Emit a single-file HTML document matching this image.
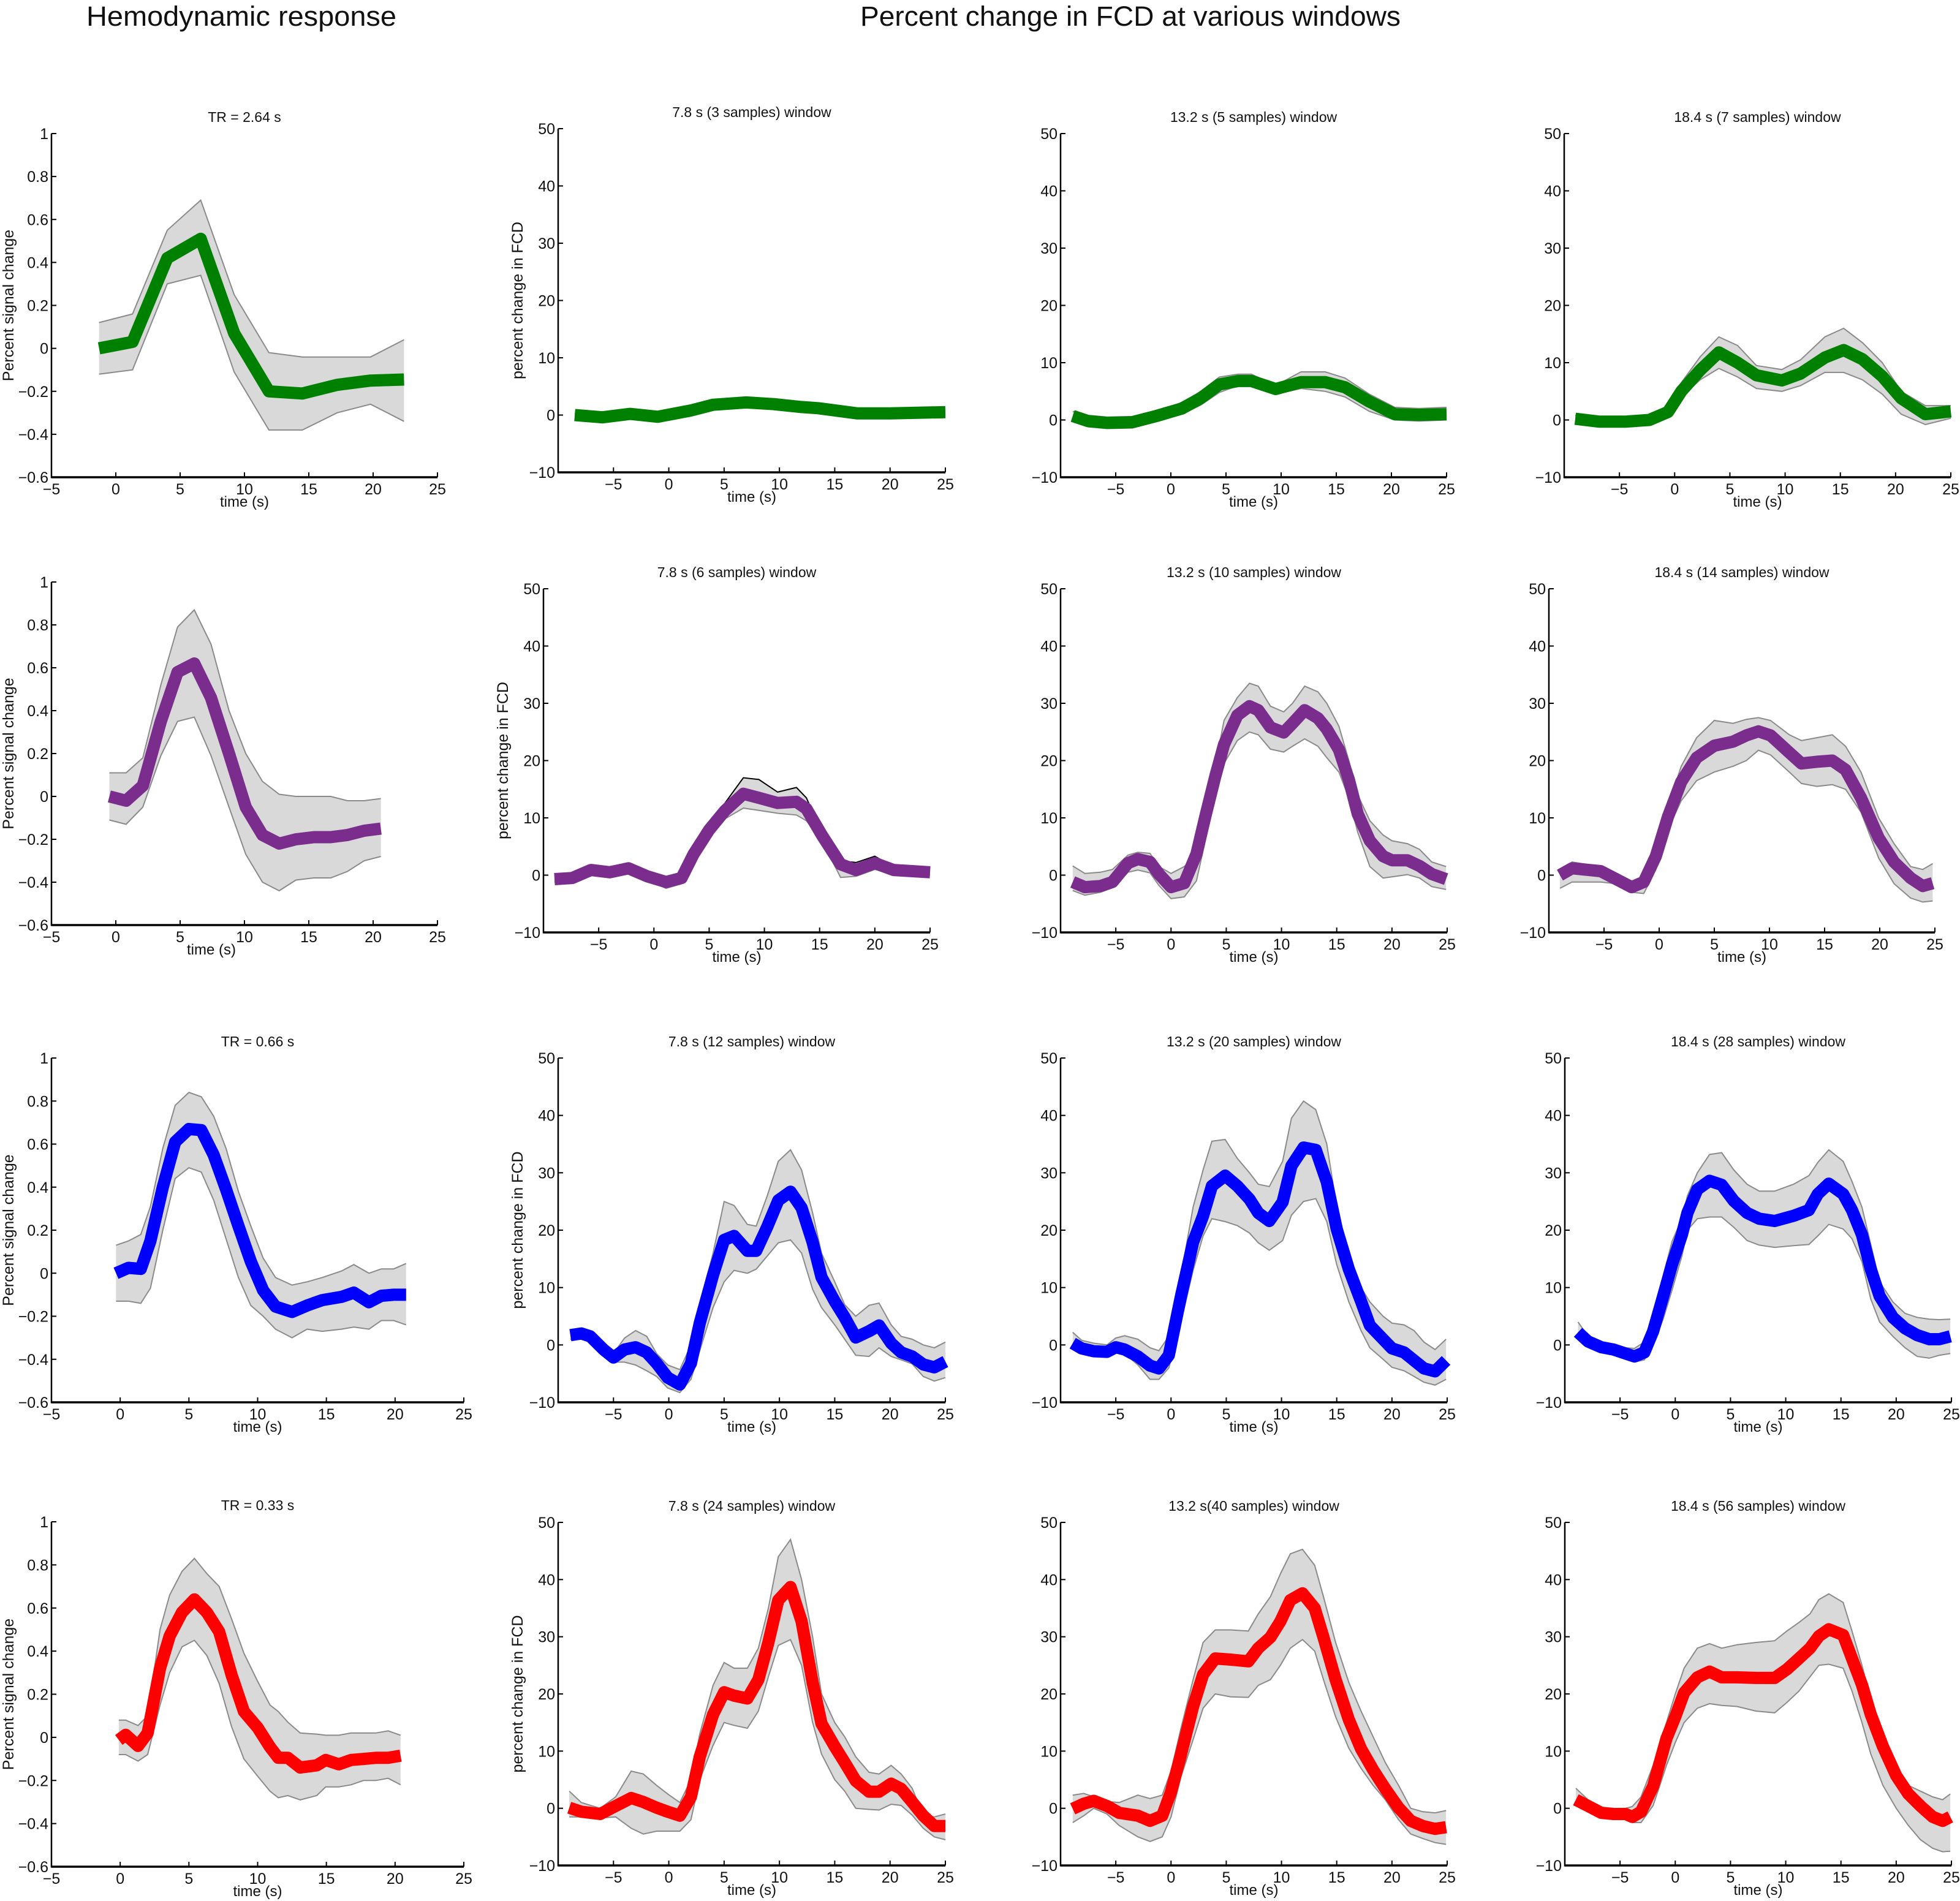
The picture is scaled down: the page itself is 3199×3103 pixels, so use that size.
<!DOCTYPE html>
<html><head><meta charset="utf-8"><style>
html,body{margin:0;padding:0;background:#fff}
svg{display:block}
text{font-family:"Liberation Sans",Arial,sans-serif;fill:#111}
</style></head><body>
<svg id="fig" xmlns="http://www.w3.org/2000/svg" width="3199" height="3103" viewBox="0 0 3199 3103">
<text x="394" y="42" font-size="45" text-anchor="middle" textLength="506" lengthAdjust="spacingAndGlyphs">Hemodynamic response</text>
<text x="1845" y="42" font-size="45" text-anchor="middle" textLength="882" lengthAdjust="spacingAndGlyphs">Percent change in FCD at various windows</text>
</svg>
<script>
// ---------- data: row 1 ----------
const p00X=[-1.3,1.3,4.0,6.6,9.2,11.9,14.5,17.2,19.8,22.4];
const p00Mean=[0,0.03,0.42,0.51,0.07,-0.2,-0.21,-0.17,-0.15,-0.145];
const p00Upper=[0.12,0.16,0.55,0.69,0.25,-0.02,-0.04,-0.04,-0.04,0.04];
const p00Lower=[-0.12,-0.1,0.3,0.34,-0.11,-0.38,-0.38,-0.3,-0.26,-0.34];

const p01X=[-8.5,-6,-3.5,-1,2,4,7,9.5,12,13.5,17,20,25];
const p01Mean=[0,-0.4,0.2,-0.3,0.8,1.8,2.2,1.9,1.4,1.2,0.3,0.3,0.5];
const p01Upper=[0.3,-0.1,0.5,0,1.1,2.1,2.5,2.2,1.7,1.5,0.6,0.6,0.8];
const p01Lower=[-0.3,-0.7,-0.1,-0.6,0.5,1.5,1.9,1.6,1.1,0.9,0,0,0.2];

const p02X=[-8.9,-7.5,-5.8,-3.5,-1.3,1,2.7,4.4,6.1,7.3,9.5,11.8,14,15.8,18,20.3,22.5,25];
const p02Mean=[0.7,-0.2,-0.5,-0.4,0.7,2,3.8,6.2,6.8,6.8,5.4,6.6,6.6,5.7,3.2,1,0.9,1];
const p02Upper=[1.5,0.8,0.5,0.6,1.7,3,5,7.5,8,8,6,8.4,8.4,7.3,4.5,2.2,2,2.2];
const p02Lower=[0,-1.2,-1.5,-1.4,-0.3,1,2.6,4.8,6,6,4.5,5.5,5,4,1.5,0,-0.2,0];

const p03X=[-9,-6.8,-4.5,-2.3,-0.6,0.6,2.3,4,5.7,7.4,9.7,11.4,13.6,15.3,17,18.8,20.5,22.7,25];
const p03Mean=[0.2,-0.3,-0.3,0,1.4,5,8.7,11.8,10,7.8,6.9,8.1,10.9,12.2,10.6,7.6,3.8,1,1.5];
const p03Upper=[0.8,0.3,0.3,0.6,2.2,6.5,11,14.5,13,9.5,8.8,10.5,14.5,16,13.5,10,5,2.5,2.5];
const p03Lower=[-0.4,-0.9,-0.9,-0.6,0.6,4,7,9,7.5,5.5,5,6,8.3,8.3,7,4.5,1,-0.8,0.3];

// ---------- data: row 2 ----------
const p10X=[-0.5,0.8,2.1,3.5,4.8,6.1,7.4,8.8,10.1,11.4,12.7,14.0,15.4,16.7,18.0,19.3,20.6];
const p10Mean=[0,-0.02,0.05,0.35,0.58,0.62,0.46,0.2,-0.05,-0.18,-0.22,-0.2,-0.19,-0.19,-0.18,-0.16,-0.15];
const p10Upper=[0.11,0.11,0.18,0.52,0.79,0.87,0.71,0.40,0.20,0.07,0.01,0,0,0,-0.02,-0.02,-0.01];
const p10Lower=[-0.11,-0.13,-0.05,0.19,0.35,0.37,0.19,-0.05,-0.27,-0.40,-0.44,-0.39,-0.38,-0.38,-0.35,-0.30,-0.28];

const p11X=[-9,-7.4,-5.7,-4,-2.3,-0.6,1.1,2.5,3.6,5,6.4,8.1,9.5,11.2,12.9,13.8,15.2,16.9,18.3,20,21.7,23.4,25];
const p11Mean=[-0.7,-0.5,0.9,0.5,1.2,-0.2,-1.2,-0.5,3.7,7.9,11.2,14.2,13.5,12.6,12.8,11.6,7,1.9,0.9,2.1,0.9,0.7,0.5];
const p11Upper=[-0.4,-0.2,1.2,0.8,1.5,0.2,-0.5,0,4.3,8.5,12.5,17,16.7,14.5,15.3,13.5,7.5,2.5,2.2,3.3,1.4,1,0.8];
const p11Lower=[-1.2,-1,0.4,0,0.7,-0.8,-2.3,-1.5,3,7.5,9.8,11.7,11.3,10.8,10.5,9.5,6,-0.4,-0.2,1,0.2,0.2,0];

const p12X=[-8.9,-7.8,-6.4,-5.3,-3.9,-3,-1.9,-1.1,0,1.2,2.3,3.1,4,4.8,6,7.1,7.9,9,10.2,11,12.1,13.3,14.1,15.2,16.1,16.9,18,19.2,20,21.4,22.5,23.6,24.9];
const p12Mean=[-1.2,-2.1,-1.9,-1.2,2.1,2.8,2.3,0.2,-2.1,-1.4,3.7,10.2,17.2,22.8,27.9,29.5,28.8,25.8,24.9,26.5,28.8,27.4,25.5,21.9,16.7,10.7,6,3.3,2.6,2.6,1.6,0.2,-0.7];
const p12Upper=[1.6,0.3,0.5,1,3.5,4,3.8,1.5,0.3,1.5,3.5,10.5,19,27,31,33.5,33,29.5,28.5,30,33,32,30,26,20,14,9.5,7,6,5.5,4.5,2.3,1.5];
const p12Lower=[-2.7,-3.5,-3,-2.2,0.5,0.9,0.4,-1.8,-4.1,-3.8,-1,6,14,19.5,23.5,25,24.5,22,21.5,22.5,23.8,22.5,20.5,18,13.5,7.5,1.5,-0.5,-0.3,0.1,-0.5,-2,-2.5];

const p13X=[-9,-7.9,-5.3,-3.9,-2.5,-1.4,-0.3,0.8,2,3.4,5,6.7,7.9,9,10.1,11.8,12.9,14.3,15.7,16.9,18.3,19.9,21.3,22.8,23.9,24.8];
const p13Mean=[0,1.2,0.7,-0.7,-2.1,-1.2,3.3,10.2,16.3,20.5,22.6,23.3,24.4,25.1,24.4,21.4,19.5,19.8,20,18.4,13.5,6.5,2.3,-0.5,-1.9,-1.4];
const p13Upper=[0.5,2.3,1.5,0,-1,-1,4.5,12,19,24,27,26.5,27.2,27.5,27,24.5,23.5,24,24.5,22.5,18,10,5.5,1.5,1,2];
const p13Lower=[-2.3,-1.2,-1.2,-1.5,-3,-3.2,1,8,13,16.5,18,19,20,21.8,21,18,16,15.5,15.8,15,11,3,-1.5,-4,-4.7,-4.5];

// ---------- data: row 3 ----------
const p20X=[-0.3,0.6,1.5,2.2,3.1,4,5,5.9,6.8,7.7,8.6,9.5,10.4,11.3,12.5,13.6,14.7,16.1,17,18.1,19,19.9,20.8];
const p20Mean=[0,0.025,0.02,0.15,0.4,0.61,0.67,0.665,0.55,0.39,0.22,0.055,-0.08,-0.155,-0.18,-0.15,-0.125,-0.11,-0.09,-0.135,-0.105,-0.1,-0.1];
const p20Upper=[0.13,0.15,0.18,0.31,0.58,0.78,0.84,0.82,0.73,0.58,0.38,0.22,0.07,-0.02,-0.055,-0.04,-0.02,0.01,0.04,0,0.02,0.02,0.045];
const p20Lower=[-0.13,-0.13,-0.14,-0.07,0.2,0.44,0.49,0.47,0.34,0.16,-0.02,-0.15,-0.2,-0.26,-0.3,-0.26,-0.27,-0.26,-0.25,-0.26,-0.22,-0.22,-0.24];

const p21X=[-8.9,-7.9,-7.1,-5.9,-5,-4,-3,-2,-1.1,-0.1,1,2,2.8,4,5,5.9,7.1,7.9,8.9,9.9,11,12,13,13.8,15,15.9,16.9,18.1,19,20.1,21,22,23,24,25];
const p21Mean=[1.7,2,1.5,-0.8,-2.2,-0.8,-0.4,-1.3,-3.2,-5.7,-6.9,-3.2,3.8,12.2,18.3,19,16.4,16.4,20.6,25.2,26.7,23.9,17.9,11.8,7.6,4.8,1.3,2.4,3.4,0.3,-1.3,-2,-3.4,-3.9,-2.9];
const p21Upper=[2.2,2.5,2,0.2,-1.5,1.2,2.5,1.5,-1.5,-3.5,-4.3,0,7,16,25,24.3,21,20.7,26,32,34,30.5,23,16,11,7,5,6.9,7.3,3.5,1.5,1,0,-0.5,0.5];
const p21Lower=[1,1,1,-1.5,-3,-3,-3.5,-4.5,-5.5,-7.5,-8.3,-6,-1,6.5,11,13,12.5,13.2,15.5,17.8,18.3,16,9.7,6.5,3.5,1,-1.8,-2,-0.5,-2,-2.6,-3.3,-5.5,-6.3,-5.7];

const p22X=[-8.9,-8.1,-7,-5.8,-5,-4.2,-3,-1.9,-1.1,-0.2,0.9,2,2.9,3.7,4.9,6,7.1,7.9,8.9,10.1,10.9,12,13.1,14.1,15,16.1,17.2,18,19.2,20,21.1,22,22.9,23.9,24.9];
const p22Mean=[0.3,-0.6,-1.1,-1.2,-0.4,-0.8,-2,-3.6,-4.1,-1.8,8.5,17.9,22.5,27.7,29.5,27.7,25.4,23,21.6,24.9,31.2,34.4,34,28.4,20.2,13.2,7.6,3.4,1,-0.6,-1.3,-2.7,-4.1,-4.6,-2.7];
const p22Upper=[2.2,0.8,0.3,0,1.2,1.6,1,-0.5,-1,1.5,12,24,30.5,35.5,35.8,32.5,30,28,27.6,32,39.5,42.5,41,35,24,16,10,7.5,5,3.8,3.5,2.5,0.5,-0.8,1];
const p22Lower=[-0.5,-1,-1.3,-1.5,-0.8,-1.5,-3.5,-6,-6,-4,4,13,19,22,21.5,20.8,19.5,17.8,16.5,18.2,22.6,25,25.5,21.5,14,7.5,2.5,-0.5,-2.5,-3.9,-4.5,-5.5,-6.5,-7,-6];

const p23X=[-8.8,-7.9,-6.7,-5.6,-4.5,-3.7,-2.8,-2,-1.1,-0.3,0.6,1.1,2,3.1,4.2,5.3,6.5,7.6,9,10.7,12.1,12.9,13.9,15.2,16,16.9,17.7,18.5,19.7,20.8,21.9,23,23.9,24.9];
const p23Mean=[2.2,0.6,-0.4,-0.8,-1.5,-2,-1.3,2.4,8.5,14,19.2,23,27.1,28.6,27.9,25.1,23,22,21.6,22.5,23.5,26.3,28.1,26.3,23.5,19.2,13.2,8.5,4.8,2.9,1.7,1,1,1.5];
const p23Upper=[4,1.5,0.5,0,-0.5,-0.6,0.5,5,12,18,22,26,30,33.2,33.5,30.5,28,26.8,26.8,28,29.5,31.8,34,32,28.5,24,17.5,11,7.5,5.5,4.8,4.5,4.4,4.5];
const p23Lower=[1.2,-0.3,-1.2,-1.6,-2.5,-3,-2.6,0,4.5,9.5,15.5,20,22,22.3,22.3,20.5,18.2,17.4,17,17.3,17.5,19,21,20.2,18.5,14.5,8,4,1.5,-0.5,-2,-2.3,-1.8,-1.5];

// ---------- data: row 4 ----------
const p30X=[-0.1,0.4,1.3,2,2.9,3.6,4.5,5.4,6.3,7.2,8.1,9,10,10.9,11.5,12.2,13.1,14.3,14.95,15.9,16.8,17.7,18.6,19.5,20.4];
const p30Mean=[-0.012,0.012,-0.04,0.02,0.32,0.47,0.58,0.64,0.58,0.49,0.29,0.12,0.045,-0.045,-0.095,-0.095,-0.14,-0.13,-0.105,-0.125,-0.105,-0.1,-0.095,-0.095,-0.085];
const p30Upper=[0.08,0.08,0.055,0.1,0.5,0.66,0.77,0.83,0.76,0.7,0.55,0.39,0.26,0.15,0.12,0.07,0.02,0.015,0.01,0.01,0.02,0.02,0.02,0.03,0.01];
const p30Lower=[-0.08,-0.08,-0.11,-0.08,0.15,0.3,0.42,0.45,0.38,0.25,0.05,-0.1,-0.18,-0.25,-0.28,-0.27,-0.29,-0.27,-0.23,-0.23,-0.22,-0.2,-0.2,-0.19,-0.22];

const p31X=[-9,-7.9,-6.2,-4.8,-3.4,-2.3,-1.1,-0.1,1,2,2.8,4,5,5.9,7.1,8.1,9,9.9,11,12,13,13.8,15,15.9,16.9,18.1,19,20.1,21,22,23,24,25];
const p31Mean=[0.1,-0.6,-1,0.4,1.8,1.1,0.1,-0.6,-1.3,2,9,16.4,20.3,19.7,19.2,22.5,29,36.4,38.7,32.7,22,14.8,10.8,8,4.8,2.9,2.9,4.3,3.4,1.1,-1.3,-3.1,-3.1];
const p31Upper=[3,1,0,2,6.5,6,4,2.5,1,5,13,21.5,25.5,24.5,24.5,28,35,44,47,40,30,20,15,12.5,9,6.3,6,7.5,6,3.5,-1.2,-1.5,-1];
const p31Lower=[-1.5,-1.5,-1.7,-1.5,-3.5,-4.5,-4,-4,-4,-2,5,11,15,14.5,14,17,23,28.5,29.5,25,15,9.5,5,3,0,-0.2,-0.3,0.7,0.5,-1.2,-3.5,-5,-5.5];

const p32X=[-8.9,-7.9,-7,-5.8,-4.7,-3,-1.9,-0.8,0,0.9,2,2.9,4,5.4,7,7.9,9,9.9,10.8,11.9,13,13.8,14.9,16.1,17.2,18.3,19.4,20.6,21.7,22.8,23.9,24.9];
const p32Mean=[-0.1,0.8,1.3,0.4,-0.8,-1.3,-2.2,-1.3,2.9,9.4,17.8,23.4,26.2,26,25.7,28,29.9,32.7,36.4,37.6,35,29.9,22.5,15.5,10.4,6.7,3.4,0.1,-2.2,-3.1,-3.6,-3.3];
const p32Upper=[2.3,2.6,2,1.2,1,2.3,1.7,2.3,6.5,14,22.5,29,31.2,31.2,31,34,37,41,44.5,45.3,42.5,37,29,22,17,12.5,8,4,0,-0.6,-0.8,-0.4];
const p32Lower=[-2.5,-1.3,0,-1,-3,-5,-5.8,-5,-1.5,5.5,12,17.5,20,19.5,19.4,21.5,22.5,25,28,29.5,27.5,22.5,16,10.5,7,4,1.5,-2,-4.5,-5.3,-6,-6.3];

const p33X=[-9,-7.9,-6.7,-5.6,-4.5,-3.9,-3.1,-2,-0.8,0,0.8,2,3.1,4.2,5.6,7.3,9,10.1,11.2,12.2,13,13.9,15.2,16,16.9,17.7,18.8,20,21.1,22.2,23.3,24.2,24.9];
const p33Mean=[1.5,0.4,-0.8,-1,-1,-1.5,-0.6,3.9,12.2,16,20.2,22.9,23.9,22.9,22.9,22.8,22.8,24.3,26.2,28,30.1,31.3,30.3,26.2,21.6,16.4,10.8,5.7,2.5,0.4,-1.5,-2.2,-1.5];
const p33Upper=[3.5,1.5,0.2,-0.1,0,0.3,2,7.5,15,20,24.5,28,28.8,28,28.6,29,29.3,31,32.5,34,36.5,37.5,36,31,25,19,13,7.5,4,3,2,1.5,2.5];
const p33Lower=[0.5,-0.3,-1.5,-1.5,-1.8,-2.5,-2.5,0.5,7.5,11.5,15,17.5,18.3,18,17.8,17,16.7,18.5,20.5,23,25,25.2,24.5,20.5,15,9.5,4,0,-3,-5.5,-7,-7.6,-7.5];

// ---------- tick labels ----------
const hrYTicks=[-0.6,-0.4,-0.2,0,0.2,0.4,0.6,0.8,1];
const hrXTicks=[-5,0,5,10,15,20,25];
const fcdYTicks=[-10,0,10,20,30,40,50];
const fcdXTicks=[-5,0,5,10,15,20,25];

// ---------- layout (not data) ----------
const GREEN="#008000",PURPLE="#7b2d8e",BLUE="#0000ff",RED="#ff0000";
const panels=[
 {id:"p00",L:84,R:714,T:218,B:779,hr:true,c:GREEN,t:"TR = 2.64 s",x:p00X,m:p00Mean,u:p00Upper,l:p00Lower},
 {id:"p01",L:911,R:1543,T:210,B:771,c:GREEN,t:"7.8 s (3 samples) window",yl:true,x:p01X,m:p01Mean,u:p01Upper,l:p01Lower},
 {id:"p02",L:1731,R:2361,T:218,B:779,c:GREEN,t:"13.2 s (5 samples) window",x:p02X,m:p02Mean,u:p02Upper,l:p02Lower},
 {id:"p03",L:2553,R:3184,T:218,B:779,c:GREEN,t:"18.4 s (7 samples) window",x:p03X,m:p03Mean,u:p03Upper,l:p03Lower},
 {id:"p10",L:84,R:714,T:950,B:1510,hr:true,c:PURPLE,t:"",xlx:345,x:p10X,m:p10Mean,u:p10Upper,l:p10Lower},
 {id:"p11",L:887,R:1518,T:961,B:1522,c:PURPLE,t:"7.8 s (6 samples) window",yl:true,us:"#000",x:p11X,m:p11Mean,u:p11Upper,l:p11Lower},
 {id:"p12",L:1731,R:2362,T:961,B:1522,c:PURPLE,t:"13.2 s (10 samples) window",x:p12X,m:p12Mean,u:p12Upper,l:p12Lower},
 {id:"p13",L:2528,R:3158,T:961,B:1522,c:PURPLE,t:"18.4 s (14 samples) window",x:p13X,m:p13Mean,u:p13Upper,l:p13Lower},
 {id:"p20",L:84,R:757,T:1727,B:2289,hr:true,c:BLUE,t:"TR = 0.66 s",x:p20X,m:p20Mean,u:p20Upper,l:p20Lower},
 {id:"p21",L:911,R:1543,T:1727,B:2289,c:BLUE,t:"7.8 s (12 samples) window",yl:true,x:p21X,m:p21Mean,u:p21Upper,l:p21Lower},
 {id:"p22",L:1731,R:2362,T:1727,B:2289,c:BLUE,t:"13.2 s (20 samples) window",x:p22X,m:p22Mean,u:p22Upper,l:p22Lower},
 {id:"p23",L:2554,R:3185,T:1727,B:2289,c:BLUE,t:"18.4 s (28 samples) window",x:p23X,m:p23Mean,u:p23Upper,l:p23Lower},
 {id:"p30",L:84,R:757,T:2484,B:3047,hr:true,c:RED,t:"TR = 0.33 s",x:p30X,m:p30Mean,u:p30Upper,l:p30Lower},
 {id:"p31",L:911,R:1543,T:2485,B:3045,c:RED,t:"7.8 s (24 samples) window",yl:true,x:p31X,m:p31Mean,u:p31Upper,l:p31Lower},
 {id:"p32",L:1731,R:2362,T:2485,B:3045,c:RED,t:"13.2 s(40 samples) window",x:p32X,m:p32Mean,u:p32Upper,l:p32Lower},
 {id:"p33",L:2554,R:3185,T:2485,B:3045,c:RED,t:"18.4 s (56 samples) window",x:p33X,m:p33Mean,u:p33Upper,l:p33Lower}
];
const NS="http://www.w3.org/2000/svg";
const svg=document.getElementById("fig");
function mk(tag,attrs,parent){const e=document.createElementNS(NS,tag);for(const k in attrs)e.setAttribute(k,attrs[k]);(parent||svg).appendChild(e);return e;}
function fmt(v){const s=(Math.round(v*10)/10).toString();return s.replace("-","\u2212");}
panels.forEach(p=>{
  const g=mk("g",{});
  
  
  const xmin=p.hr?-5:-10,xmax=25,ymin=p.hr?-0.6:-10,ymax=p.hr?1:50;
  const sx=v=>p.L+(v-xmin)/(xmax-xmin)*(p.R-p.L);
  const sy=v=>p.B-(v-ymin)/(ymax-ymin)*(p.B-p.T);
  let pts=[];
  p.x.forEach((xv,i)=>pts.push(sx(xv).toFixed(1)+","+sy(p.u[i]).toFixed(1)));
  for(let i=p.x.length-1;i>=0;i--)pts.push(sx(p.x[i]).toFixed(1)+","+sy(p.l[i]).toFixed(1));
  const band=mk("polygon",{points:pts.join(" "),fill:"#d9d9d9",stroke:"none"},g);
  
  
  const up=mk("polyline",{points:p.x.map((xv,i)=>sx(xv).toFixed(1)+","+sy(p.u[i]).toFixed(1)).join(" "),fill:"none",stroke:p.us||"#8a8a8a","stroke-width":2},g);
  
  
  const lo=mk("polyline",{points:p.x.map((xv,i)=>sx(xv).toFixed(1)+","+sy(p.l[i]).toFixed(1)).join(" "),fill:"none",stroke:"#8a8a8a","stroke-width":2},g);
  
  
  const ml=mk("polyline",{points:p.x.map((xv,i)=>sx(xv).toFixed(1)+","+sy(p.m[i]).toFixed(1)).join(" "),fill:"none",stroke:p.c,"stroke-width":20,"stroke-linejoin":"round"},g);
  
  
  const ya=mk("line",{x1:p.L,y1:p.T,x2:p.L,y2:p.B+1.5,stroke:"#000","stroke-width":2.5},g);
  
  
  const xa=mk("line",{x1:p.L,y1:p.B,x2:p.R,y2:p.B,stroke:"#000","stroke-width":3.5},g);
  
  
  const yt=p.hr?hrYTicks:fcdYTicks, xt=p.hr?hrXTicks:fcdXTicks;
  yt.forEach(v=>{
    const y=sy(v);
    mk("line",{x1:p.L,y1:y,x2:p.L+8,y2:y,stroke:"#000","stroke-width":2},g);
    const t=mk("text",{x:p.L-5,y:y+9,"font-size":25,"text-anchor":"end"},g);
    t.textContent=fmt(v);
    
    
  });
  xt.forEach(v=>{
    const x=sx(v);
    mk("line",{x1:x,y1:p.B,x2:x,y2:p.B-8,stroke:"#000","stroke-width":2},g);
    const t=mk("text",{x:x,y:p.B+28,"font-size":25,"text-anchor":"middle"},g);
    t.textContent=fmt(v);
    
    
  });
  const xl=mk("text",{x:p.xlx||(p.L+p.R)/2,y:p.B+48,"font-size":24,"text-anchor":"middle"},g);
  xl.textContent="time (s)";
  
  
  if(p.t){
    const tt=mk("text",{x:(p.L+p.R)/2,y:p.T-19,"font-size":23,"text-anchor":"middle"},g);
    tt.textContent=p.t;
    
    
  }
  if(p.hr||p.yl){
    const cx=p.hr?22:p.L-58, cy=(p.T+p.B)/2;
    const yl=mk("text",{x:cx,y:cy,"font-size":25,"text-anchor":"middle",transform:"rotate(-90 "+cx+" "+cy+")"},g);
    yl.textContent=p.hr?"Percent signal change":"percent change in FCD";
    
    
  }
});
</script>
</body></html>
